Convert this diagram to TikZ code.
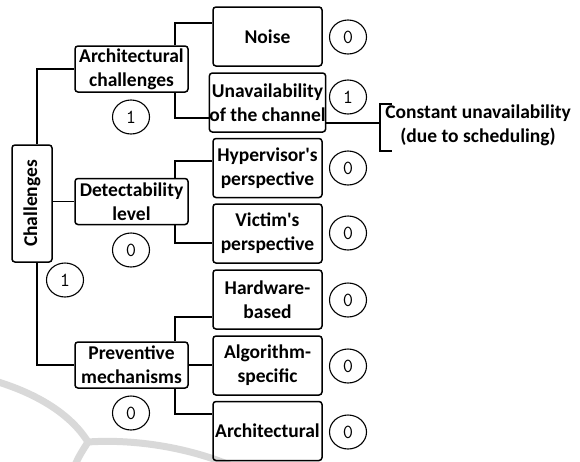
\documentclass[tikz,border=0pt]{standalone}
\usepackage{fontspec}
\setmainfont{Carlito}
\usetikzlibrary{shapes.geometric}
\newcommand{\apos}{\textquotesingle}
\begin{document}
\begin{tikzpicture}[x=1pt,y=-1pt,
  box/.style={draw, line width=1.5pt, rounded corners=3pt, inner sep=0pt,
    align=center, font=\bfseries\fontsize{19.5}{24}\selectfont},
  leafbox/.style={box, minimum width=109pt, minimum height=59pt},
  midbox/.style={box, minimum width=113pt, minimum height=46pt},
  count/.style={draw, ellipse, line width=1.1pt, minimum width=37pt,
    minimum height=34pt, inner sep=0pt, font=\ttfamily\fontsize{20}{20}\selectfont},
  link/.style={line width=1.2pt},
  wmark/.style={line width=7pt, draw=black!15},
  note/.style={align=center, font=\bfseries\fontsize{19.5}{24}\selectfont}
]
\useasboundingbox (0,0) rectangle (580,461);

% faint background logo arcs
\begin{scope}
  \clip (0,0) rectangle (580,461);
  \draw[wmark] (-5,381) .. controls (35,393) and (70,413) .. (88,442);
  \draw[wmark] (88,442) .. controls (130,439) and (185,446) .. (232,466);
  \draw[wmark] (88,442) .. controls (83,450) and (78,457) .. (74,468);
\end{scope}

% root
\node[box, rotate=90, minimum width=117pt, minimum height=40pt] (root) at (32,203.5) {Challenges};
\coordinate (tx) at (37,0);

% second level
\node[midbox] (arch) at (131.5,69) {Architectural\\challenges};
\node[midbox] (det) at (131.5,201.5) {Detectability\\level};
\node[midbox] (prev) at (131.5,365) {Preventive\\mechanisms};
\coordinate (bx) at (175,0);

% leaves
\node[leafbox] (noise) at (267.5,36.5) {Noise};
\node[leafbox] (unav) at (267.5,102.5) {Unavailability\\of the channel};
\node[leafbox] (hyp) at (267.5,168) {Hypervisor\apos s\\perspective};
\node[leafbox] (vic) at (267.5,233.5) {Victim\apos s\\perspective};
\node[leafbox] (hw) at (267.5,299.5) {Hardware-\\based};
\node[leafbox] (alg) at (267.5,365.5) {Algorithm-\\specific};
\node[leafbox] (archl) at (267.5,431) {Architectural};

% counts
\node[count] (c0) at (65,280) {1};
\node[count] (c1) at (131,117) {1};
\node[count] (c2) at (131,250) {0};
\node[count] (c3) at (131,413) {0};
\node[count] (c4) at (348,37) {0};
\node[count] (c5) at (348,97) {1};
\node[count] (c6) at (348,168) {0};
\node[count] (c7) at (348,233) {0};
\node[count] (c8) at (348,300) {0};
\node[count] (c9) at (348,366) {0};
\node[count] (c10) at (348,432) {0};

% connectors from the root
\draw[link] (root.east -| tx) |- (arch.west);
\draw[link] (root.west -| tx) |- (prev.west);
\draw[link] (root.south |- det.west) -- (det.west);

% connectors to the leaves
\draw[link] (arch.north -| bx) |- ([yshift=13.5pt]noise.west);
\draw[link] (arch.south -| bx) |- ([yshift=-15.5pt]unav.west);
\draw[link] (det.north -| bx) |- ([yshift=7pt]hyp.west);
\draw[link] (det.south -| bx) |- ([yshift=-9.5pt]vic.west);
\draw[link] (prev.north -| bx) |- ([yshift=-17.5pt]hw.west);
\draw[link] (prev.east) -- (alg.west |- prev.east);
\draw[link] (prev.south -| bx) |- ([yshift=17pt]archl.west);

% bracket with the sub-item
\coordinate (bk) at (380,123);
\coordinate (bkt) at (380,104);
\coordinate (bkb) at (380,151);
\draw[link] ([yshift=-20.5pt]unav.east) -- (bk);
\draw[link] ([xshift=12pt]bkt) -- (bkt) -- (bkb) -- ([xshift=12pt]bkb);
\node[note] (cu) at (478,125) {Constant unavailability\\(due to scheduling)};
\end{tikzpicture}
\end{document}
